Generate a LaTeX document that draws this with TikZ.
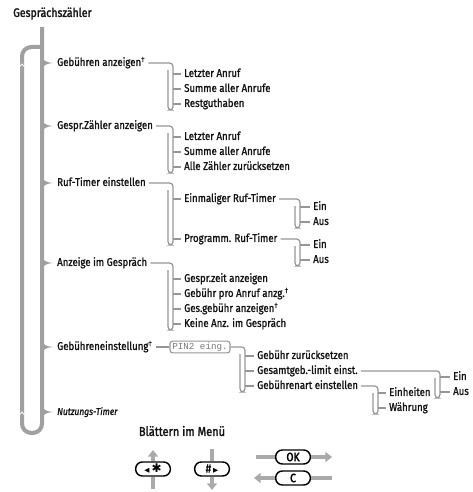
\documentclass[tikz,border=0pt]{standalone}
\usepackage{fontspec}
\setmainfont{Fira Sans}[FakeBold=1.4, FakeStretch=0.86]
\newfontfamily\symfont{DejaVu Sans}
\setmonofont{Liberation Mono}
\usetikzlibrary{arrows.meta, calc}
\definecolor{linegray}{RGB}{150,150,150}
\definecolor{spinegray}{RGB}{160,160,160}
\definecolor{keygray}{RGB}{170,170,170}
\definecolor{txtdark}{RGB}{20,20,20}
\tikzset{
  label/.style={anchor=west, inner xsep=2.2pt, inner ysep=0.5pt, text=txtdark,
    font=\fontsize{8.4}{10}\selectfont, text height=6.2pt, text depth=1.8pt},
  conn/.style={draw=linegray, line width=0.9pt, rounded corners=2.5pt},
  tick/.style={draw=linegray, line width=0.8pt},
  spine/.style={draw=spinegray, line width=3pt, rounded corners=7pt},
  pinbox/.style={draw=linegray, line width=0.8pt, rounded corners=2pt, text=linegray!80!black,
    font=\ttfamily\fontsize{6.9}{8}\selectfont, inner xsep=1.8pt, inner ysep=1.2pt},
  keybox/.style={draw=black, line width=1.1pt, rounded corners=5pt, minimum width=26pt,
    minimum height=10.5pt, inner sep=0pt, font=\fontsize{9}{10}\selectfont},
  keybar/.style={draw=keygray, line width=2.8pt},
  keyarrow/.style={keybar, -{Triangle[length=5pt, width=7.5pt]}}
}
\begin{document}
\begin{tikzpicture}[x=0.75pt, y=-0.75pt]
  \useasboundingbox (0,0) rectangle (472,492);
  \coordinate (spine) at (42,0);

  \node[label, font=\fontsize{9.2}{10}\selectfont\addfontfeature{FakeBold=2}] (title) at (10,14) {Gesprächszähler};

  % first level
  \node[label] (g1) at (54,63) {Gebühren anzeigen\textsuperscript{†}};
  \node[label] (g2) at (54,126) {Gespr.Zähler anzeigen};
  \node[label] (g3) at (54,183) {Ruf-Timer einstellen};
  \node[label] (g4) at (54,263) {Anzeige im Gespräch};
  \node[label] (g5) at (54,347) {Gebühreneinstellung\textsuperscript{†}};
  \node[label, font=\itshape\fontsize{7.4}{8}\selectfont] (g6) at (54,412) {Nutzungs-Timer};

  % spine with loop
  \draw[spine] (42,27) -- (42,433) -- (22,433) -- (22,47) -- (42,47);
  \foreach \n in {g1,g2,g3,g4,g5,g6}{
    \begin{scope}[shift={(\n.west -| spine)}]
      \fill[spinegray] (0,-8) .. controls (1,-2) and (3,-1) .. (11,0)
        .. controls (3,1) and (1,2) .. (0,8) -- cycle;
    \end{scope}
  }
  \draw[white, line width=0.6pt] (19.5,67) -- (22,64) -- (24.5,67);
  \draw[white, line width=0.6pt] (19.5,415) -- (22,412) -- (24.5,415);

  % second level
  \node[label] (a11) at (181,74) {Letzter Anruf};
  \node[label] (a12) at (181,89) {Summe aller Anrufe};
  \node[label] (a13) at (181,104) {Restguthaben};
  \node[label] (a21) at (181,137) {Letzter Anruf};
  \node[label] (a22) at (181,152) {Summe aller Anrufe};
  \node[label] (a23) at (181,167) {Alle Zähler zurücksetzen};
  \node[label] (a31) at (181,199) {Einmaliger Ruf-Timer};
  \node[label] (a32) at (181,239) {Programm. Ruf-Timer};
  \node[label] (a41) at (181,279) {Gespr.zeit anzeigen};
  \node[label] (a42) at (181,294) {Gebühr pro Anruf anzg.\textsuperscript{†}};
  \node[label] (a43) at (181,309) {Ges.gebühr anzeigen\textsuperscript{†}};
  \node[label] (a44) at (181,324) {Keine Anz. im Gespräch};
  \node[pinbox] (pin) at (200,347) {PIN2 eing.};
  \node[label] (a51) at (254,356) {Gebühr zurücksetzen};
  \node[label] (a52) at (254,371) {Gesamtgeb.-limit einst.};
  \node[label] (a53) at (254,386) {Gebührenart einstellen};

  % third level
  \node[label] (e1) at (310,207) {Ein};
  \node[label] (e2) at (310,222) {Aus};
  \node[label] (e3) at (310,245) {Ein};
  \node[label] (e4) at (310,260) {Aus};
  \node[label] (f1) at (450,377) {Ein};
  \node[label] (f2) at (450,392) {Aus};
  \node[label] (h1) at (386,393) {Einheiten};
  \node[label] (h2) at (386,408) {Währung};

  % brackets
  \coordinate (b1) at (173,0);
  \coordinate (b3) at (300,0);
  \coordinate (b5) at (245,0);
  \coordinate (b52) at (440,0);
  \coordinate (b53) at (378,0);
  \foreach \p/\f/\l/\b in {g1/a11/a13/b1, g2/a21/a23/b1, g3/a31/a32/b1,
      g4/a41/a44/b1, pin/a51/a53/b5, a31/e1/e2/b3, a32/e3/e4/b3,
      a52/f1/f2/b52, a53/h1/h2/b53}{
    \draw[conn] (\p.east) -- (\p.east -| \b) -- ($(\l.west -| \b)+(0,6)$)
      -- ($(\l.west -| \b)+(-5,6)$) -- ($(\p.east -| \b)+(-5,7)$);
  }
  \foreach \c/\b in {a11/b1, a12/b1, a13/b1, a21/b1, a22/b1, a23/b1, a31/b1, a32/b1,
      a41/b1, a42/b1, a43/b1, a44/b1, a51/b5, a52/b5, a53/b5, e1/b3, e2/b3,
      e3/b3, e4/b3, f1/b52, f2/b52, h1/b53, h2/b53}{
    \draw[tick] (\c.west -| \b) -- (\c.west);
  }
  \draw[conn] (g5.east) -- (pin.west);

  % scrolling keys
  \node[label, anchor=center, font=\fontsize{9.6}{11}\selectfont\addfontfeature{FakeBold=2}] (browse) at (182,433) {Blättern im Menü};
  \node[keybox] (kleft) at (153,469) {{\symfont\fontsize{5}{6}\selectfont◀}\,{\symfont ✱}};
  \node[keybox] (kright) at (212,469) {\#\,{\symfont\fontsize{5}{6}\selectfont▶}};
  \node[keybox, font=\fontsize{9}{10}\selectfont\addfontfeature{FakeBold=2.5}] (kok) at (293,457) {OK};
  \node[keybox, font=\fontsize{9}{10}\selectfont\addfontfeature{FakeBold=2.5}] (kc) at (293,478) {C};
  \coordinate (upL) at (153,450);
  \coordinate (lowL) at (153,489);
  \coordinate (upR) at (212,449);
  \coordinate (lowR) at (212,490);
  \coordinate (okL) at (256,457);
  \coordinate (okR) at (332,457);
  \coordinate (cL) at (254,478);
  \coordinate (cR) at (332,478);
  \draw[keyarrow] (kleft) -- (upL);
  \draw[keybar] (kleft) -- (lowL);
  \draw[keybar] (kright) -- (upR);
  \draw[keyarrow] (kright) -- (lowR);
  \draw[keybar] (kok) -- (okL);
  \draw[keyarrow] (kok) -- (okR);
  \draw[keyarrow] (kc) -- (cL);
  \draw[keybar] (kc) -- (cR);
\end{tikzpicture}
\end{document}
